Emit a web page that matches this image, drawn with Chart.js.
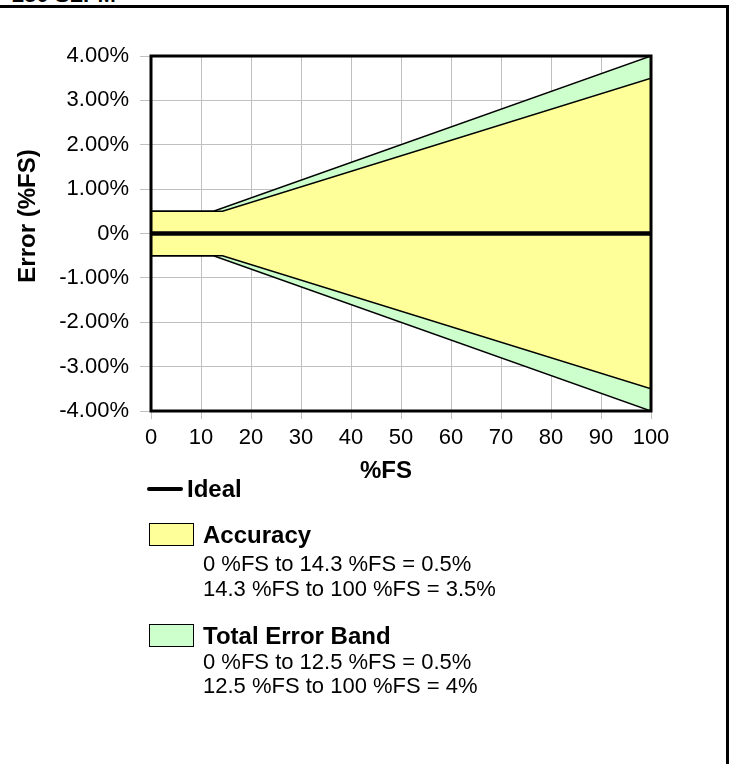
<!DOCTYPE html>
<html>
<head>
<meta charset="utf-8">
<script src="https://cdn.jsdelivr.net/npm/chart.js@4.4.1/dist/chart.umd.min.js"></script>
<style>
  html, body { margin: 0; padding: 0; background: #fff; overflow: hidden; }
  body { width: 733px; height: 764px; position: relative; font-family: "Liberation Sans", Arial, sans-serif; color: #000; }
  #graficoError { position: absolute; left: 0; top: 0; }
  .rule-top { position: absolute; left: 0; top: 5px; width: 729px; height: 3px; background: #000; }
  .rule-right { position: absolute; left: 726px; top: 5px; width: 3px; height: 759px; background: #000; }
  .cut { position: absolute; left: 12px; top: -18px; font-weight: bold; font-size: 22px; line-height: 26px; white-space: nowrap; }
  .lg { position: absolute; white-space: nowrap; line-height: 26px; }
  .lg-b { font-weight: bold; font-size: 24px; }
  .lg-n { font-size: 22px; }
  .sw { position: absolute; border: 1px solid #000; box-sizing: border-box; }
  .ln { position: absolute; background: #000; height: 4px; border-radius: 2px; }
</style>
</head>
<body>
<div class="cut">250 SLPM</div>
<div class="rule-top"></div>
<div class="rule-right"></div>
<canvas id="graficoError" width="733" height="764"></canvas>

<!-- leyenda -->
<div class="ln" style="left:147px; top:487px; width:36px;"></div>
<div class="lg lg-b" style="left:187px; top:476px;">Ideal</div>

<div class="sw" style="left:149px; top:523px; width:45px; height:23px; background:#ffff99;"></div>
<div class="lg lg-b" style="left:203px; top:522px;">Accuracy</div>
<div class="lg lg-n" style="left:203px; top:551px;">0 %FS to 14.3 %FS = 0.5%</div>
<div class="lg lg-n" style="left:203px; top:576px;">14.3 %FS to 100 %FS = 3.5%</div>

<div class="sw" style="left:149px; top:624px; width:45px; height:23px; background:#ccffcc;"></div>
<div class="lg lg-b" style="left:203px; top:623px;">Total Error Band</div>
<div class="lg lg-n" style="left:203px; top:649px;">0 %FS to 12.5 %FS = 0.5%</div>
<div class="lg lg-n" style="left:203px; top:673px;">12.5 %FS to 100 %FS = 4%</div>

<script>
// datos
const idealX = [0, 100];
const idealY = [0, 0];
const accuracyX = [0, 14.3, 100];
const accuracyUpper = [0.5, 0.5, 3.5];
const accuracyLower = [-0.5, -0.5, -3.5];
const totalX = [0, 12.5, 100];
const totalUpper = [0.5, 0.5, 4];
const totalLower = [-0.5, -0.5, -4];

const xTicks = [0, 10, 20, 30, 40, 50, 60, 70, 80, 90, 100];
const yTicks = [-4, -3, -2, -1, 0, 1, 2, 3, 4];
const yTickLabels = ['-4.00%', '-3.00%', '-2.00%', '-1.00%', '0%', '1.00%', '2.00%', '3.00%', '4.00%'];

const toPoints = (xs, ys) => xs.map((x, i) => ({ x: x, y: ys[i] }));

const FONT = '"Liberation Sans", Arial, sans-serif';

// marco negro del area del grafico
const marco = {
    id: 'marco',
    afterDatasetsDraw(chart) {
        const { ctx, chartArea: a } = chart;
        ctx.save();
        ctx.strokeStyle = '#000';
        ctx.lineWidth = 3;
        ctx.strokeRect(a.left, a.top, a.right - a.left, a.bottom - a.top);
        ctx.restore();
    }
};

// titulos de ejes
const titulos = {
    id: 'titulos',
    afterDraw(chart) {
        const ctx = chart.ctx;
        ctx.save();
        ctx.fillStyle = '#000';
        ctx.font = 'bold 24px ' + FONT;
        ctx.textAlign = 'center';
        ctx.textBaseline = 'middle';
        ctx.fillText('%FS', 386, 471);
        ctx.translate(28, 216);
        ctx.rotate(-Math.PI / 2);
        ctx.fillText('Error (%FS)', 0, 0);
        ctx.restore();
    }
};

const ctx = document.getElementById('graficoError');

new Chart(ctx, {
    type: 'line',
    data: {
        datasets: [
            {
                label: 'Total Error Band',
                data: toPoints(totalX, totalUpper),
                borderColor: '#000', borderWidth: 1.5,
                backgroundColor: '#ccffcc', fill: 'origin', order: 3
            },
            {
                label: 'Total Error Band (-)',
                data: toPoints(totalX, totalLower),
                borderColor: '#000', borderWidth: 1.5,
                backgroundColor: '#ccffcc', fill: 'origin', order: 3
            },
            {
                label: 'Accuracy',
                data: toPoints(accuracyX, accuracyUpper),
                borderColor: '#000', borderWidth: 1.5,
                backgroundColor: '#ffff99', fill: 'origin', order: 2
            },
            {
                label: 'Accuracy (-)',
                data: toPoints(accuracyX, accuracyLower),
                borderColor: '#000', borderWidth: 1.5,
                backgroundColor: '#ffff99', fill: 'origin', order: 2
            },
            {
                label: 'Ideal',
                data: toPoints(idealX, idealY),
                borderColor: '#000', borderWidth: 4.5,
                fill: false, order: 1, clip: 6
            }
        ]
    },
    options: {
        responsive: false,
        animation: false,
        devicePixelRatio: 1,
        parsing: false,
        elements: { point: { radius: 0 }, line: { tension: 0 } },
        layout: { padding: { left: 0, top: 56, right: 82, bottom: 313 } },
        plugins: {
            legend: { display: false },
            tooltip: { enabled: false },
            filler: { propagate: false }
        },
        scales: {
            x: {
                type: 'linear',
                min: 0, max: 100,
                afterFit: (s) => { s.height = 40; },
                afterBuildTicks: (s) => { s.ticks = xTicks.map(v => ({ value: v })); },
                grid: { color: '#c0c0c0', lineWidth: 1, tickLength: 8, tickColor: '#c0c0c0' },
                border: { display: false },
                ticks: {
                    autoSkip: false, maxRotation: 0, padding: 6,
                    color: '#000', font: { family: FONT, size: 22 },
                    callback: (v, i) => String(xTicks[i])
                }
            },
            y: {
                type: 'linear',
                min: -4, max: 4,
                afterFit: (s) => { s.width = 151; },
                afterBuildTicks: (s) => { s.ticks = yTicks.map(v => ({ value: v })); },
                grid: { color: '#c0c0c0', lineWidth: 1, tickLength: 11, tickColor: '#c0c0c0' },
                border: { display: false },
                ticks: {
                    autoSkip: false, padding: 11,
                    color: '#000', font: { family: FONT, size: 22 },
                    callback: (v, i) => yTickLabels[i]
                }
            }
        }
    },
    plugins: [marco, titulos]
});
</script>
</body>
</html>
